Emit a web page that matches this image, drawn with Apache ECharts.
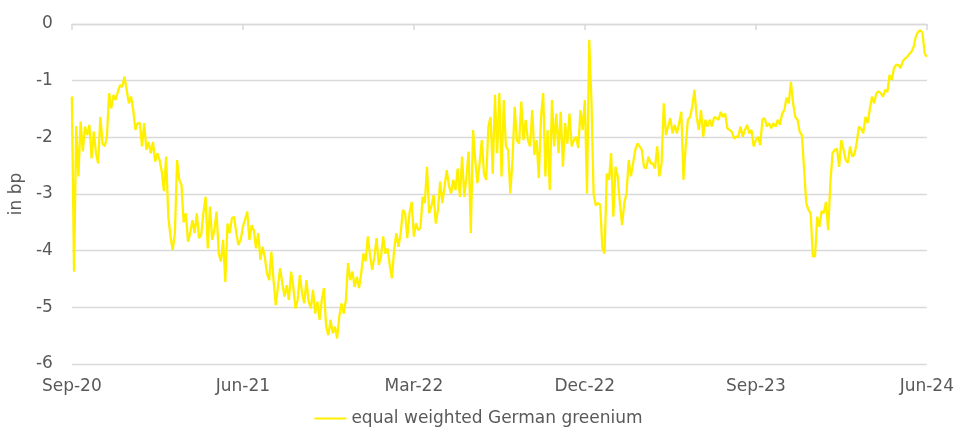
<!DOCTYPE html>
<html>
<head>
<meta charset="utf-8">
<script src="https://cdn.jsdelivr.net/npm/echarts@6/dist/echarts.min.js"></script>
<style>
  html, body { margin: 0; padding: 0; background: #fff; }
  #chart { width: 957px; height: 429px; }
</style>
</head>
<body>
<div id="chart"></div>
<script>
// twice-weekly readings of the greenium (bp), one array per 9-month stretch
var sep20ToJun21 = [-1.28, -4.37, -1.8, -2.69, -1.72, -2.25, -1.81, -1.96, -1.78, -2.37,
	-1.9, -2.28, -2.46, -1.64, -2.11, -2.16, -1.99, -1.22, -1.49, -1.25,
	-1.34, -1.19, -1.08, -1.11, -0.93, -1.16, -1.4, -1.28, -1.52, -1.87,
	-1.75, -1.75, -2.16, -1.75, -2.22, -2.08, -2.28, -2.08, -2.43, -2.28,
	-2.4, -2.6, -2.95, -2.34, -3.4, -3.75, -3.99, -3.69, -2.4, -2.75,
	-2.84, -3.5, -3.34, -3.84, -3.69, -3.46, -3.69, -3.34, -3.78, -3.72,
	-3.34, -3.05, -3.96, -3.22, -3.81, -3.64, -3.31, -4.05, -4.19, -3.81,
	-4.55, -3.52, -3.69, -3.43, -3.4, -3.69, -3.9, -3.81];
var jun21ToMar22 = [-3.58, -3.45, -3.31, -3.81, -3.55, -3.64, -3.96, -3.69, -4.16, -3.93,
	-4.11, -4.4, -4.52, -4.02, -4.52, -4.96, -4.64, -4.31, -4.58, -4.81,
	-4.61, -4.87, -4.37, -4.64, -5.02, -4.87, -4.43, -4.75, -4.93, -4.52,
	-4.9, -5.02, -4.69, -5.11, -4.9, -5.22, -4.87, -4.66, -5.34, -5.49,
	-5.22, -5.46, -5.34, -5.55, -5.16, -4.93, -5.11, -4.87, -4.22, -4.52,
	-4.37, -4.64, -4.46, -4.66, -4.4, -4.05, -4.19, -3.75, -4.08, -4.34,
	-4.11, -3.78, -4.25, -4.11, -3.75, -4.05, -3.96, -4.25, -4.49, -3.99,
	-3.69, -3.93, -3.69, -3.28, -3.34, -3.78, -3.34, -3.14];
var mar22ToDec22 = [-3.75, -3.52, -3.64, -3.6, -3.05, -3.16, -2.52, -3.34, -3.22, -3.02,
	-3.52, -3.28, -2.78, -3.16, -2.87, -2.58, -2.85, -2.99, -2.75, -2.93,
	-2.55, -3.05, -2.34, -3.05, -2.69, -2.25, -3.69, -1.87, -2.4, -2.81,
	-2.46, -2.05, -2.64, -2.75, -1.81, -1.64, -2.64, -1.25, -2.28, -1.22,
	-2.69, -1.34, -2.16, -2.22, -2.99, -2.4, -1.46, -2.05, -2.11, -1.37,
	-2.05, -1.69, -2.05, -2.16, -1.52, -2.31, -2.05, -2.72, -1.64, -1.22,
	-2.69, -1.87, -2.93, -1.34, -2.16, -1.58, -2.28, -1.55, -2.52, -1.75,
	-2.11, -1.58, -2.16, -2.05, -1.99, -2.19, -1.52, -1.87];
var dec22ToSep23 = [-1.34, -2.99, -0.28, -1.34, -3.0, -3.2, -3.16, -3.19, -3.95, -4.05,
	-2.64, -2.75, -2.28, -3.4, -2.52, -2.69, -3.16, -3.55, -3.16, -2.99,
	-2.4, -2.69, -2.46, -2.22, -2.11, -2.16, -2.22, -2.52, -2.55, -2.34,
	-2.46, -2.46, -2.55, -2.16, -2.69, -2.46, -1.4, -1.96, -1.81, -1.66,
	-1.93, -1.78, -1.93, -1.75, -1.55, -2.75, -2.16, -1.69, -1.64, -1.46,
	-1.16, -1.64, -1.87, -1.52, -1.99, -1.69, -1.81, -1.69, -1.81, -1.64,
	-1.66, -1.69, -1.55, -1.64, -1.58, -1.84, -1.87, -1.9, -2.02, -1.99,
	-1.99, -1.81, -1.99, -1.87, -1.78, -1.93, -1.87, -2.16];
var sep23ToJun24 = [-2.05, -1.99, -2.14, -1.69, -1.66, -1.81, -1.75, -1.84, -1.75, -1.81,
	-1.69, -1.78, -1.58, -1.52, -1.3, -1.4, -1.02, -1.4, -1.64, -1.69,
	-1.9, -1.96, -2.55, -3.16, -3.28, -3.34, -4.1, -4.1, -3.4, -3.58,
	-3.3, -3.34, -3.14, -3.64, -2.8, -2.28, -2.22, -2.2, -2.52, -2.05,
	-2.22, -2.4, -2.45, -2.16, -2.34, -2.3, -2.1, -1.81, -1.85, -1.93,
	-1.64, -1.75, -1.5, -1.28, -1.4, -1.22, -1.19, -1.22, -1.28, -1.16,
	-1.2, -0.9, -0.99, -0.78, -0.72, -0.72, -0.78, -0.66, -0.61, -0.58,
	-0.53, -0.49, -0.4, -0.22, -0.14, -0.11, -0.15, -0.52, -0.58];

var tickLabels = ['Sep-20', 'Jun-21', 'Mar-22', 'Dec-22', 'Sep-23', 'Jun-24'];
var seriesName = 'equal weighted German greenium';
var pointsPerTick = 78;

var greenium = [].concat(sep20ToJun21, jun21ToMar22, mar22ToDec22, dec22ToSep23, sep23ToJun24);

// categories: a reading every 3-4 days from 1 Sep 2020
var days = [];
var start = Date.UTC(2020, 8, 1);
for (var i = 0; i < greenium.length; i++) {
	days.push(new Date(start + Math.round(i * 3.5) * 86400000).toISOString().slice(0, 10));
}

var textColor = '#595959';
var gridColor = '#D9D9D9';
var font = 'DejaVu Sans';

var chart = echarts.init(document.getElementById('chart'));
chart.setOption({
	animation: false,
	grid: { left: 67, right: 29, top: 24, bottom: 65 },
	legend: {
		top: 405,
		left: 'center',
		icon: 'rect',
		itemWidth: 32,
		itemHeight: 2,
		itemGap: 4,
		textStyle: { color: textColor, fontSize: 17, fontFamily: font },
		data: [seriesName]
	},
	xAxis: [{
		type: 'category',
		data: days,
		boundaryGap: false,
		axisLine: { show: false },
		axisTick: { show: false },
		axisLabel: {
			interval: pointsPerTick - 1,
			margin: 14,
			color: textColor,
			fontSize: 17,
			fontFamily: font,
			formatter: function (v, idx) { return tickLabels[Math.round(idx / pointsPerTick)]; }
		}
	}, {
		// axis across the top at 0 bp, short ticks pointing down
		type: 'category',
		data: days,
		position: 'top',
		boundaryGap: false,
		axisLine: { show: true, lineStyle: { color: gridColor, width: 1.3 } },
		axisTick: { show: true, inside: true, length: 6, interval: pointsPerTick - 1, lineStyle: { color: gridColor, width: 1.5 } },
		axisLabel: { show: false }
	}],
	yAxis: {
		type: 'value',
		min: -6,
		max: 0,
		interval: 1,
		name: 'in bp',
		nameLocation: 'middle',
		nameGap: 46,
		nameTextStyle: { color: textColor, fontSize: 17, fontFamily: font },
		axisLine: { show: false },
		axisTick: { show: false },
		axisLabel: { color: textColor, fontSize: 17, fontFamily: font, margin: 19 },
		splitLine: { lineStyle: { color: gridColor, width: 1.3 } }
	},
	series: [{
		name: seriesName,
		type: 'line',
		data: greenium,
		showSymbol: false,
		color: '#FFF000',
		lineStyle: { width: 2.3, color: '#FFF000' }
	}]
});
</script>
</body>
</html>
